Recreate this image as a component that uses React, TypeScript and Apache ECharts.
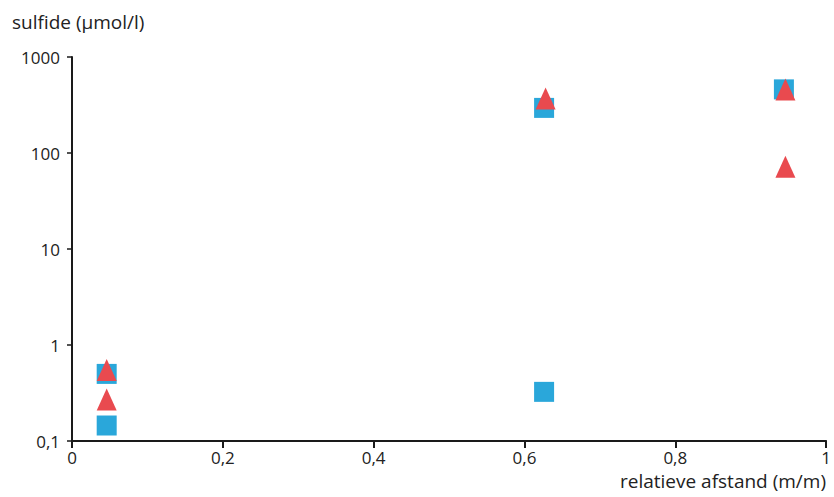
import React, { useEffect, useRef } from "react";
import * as echarts from "echarts";

const squareX = [0.046, 0.046, 0.626, 0.626, 0.944];
const squareY = [0.5, 0.145, 295, 0.325, 460];
const triangleX = [0.046, 0.046, 0.628, 0.946, 0.946];
const triangleY = [0.55, 0.27, 370, 460, 72];
const xTicks = { min: 0, max: 1, interval: 0.2 };
const yTicks = { min: 0.1, max: 1000 };
const yTitle = "sulfide (µmol/l)";
const xTitle = "relatieve afstand (m/m)";

const FONT = "Open Sans";

export default function App() {
  const ref = useRef<HTMLDivElement>(null);
  useEffect(() => {
    if (!ref.current) return;
    const chart = echarts.init(ref.current, undefined, { renderer: "svg" });
    const fmt = (v: number) => String(v).replace(".", ",");
    chart.setOption({
      animation: false,
      backgroundColor: "#ffffff",
      grid: { left: 72, right: 6, top: 57, bottom: 56, containLabel: false },
      xAxis: {
        type: "value",
        min: xTicks.min,
        max: xTicks.max,
        interval: xTicks.interval,
        splitLine: { show: false },
        axisLine: { show: true, lineStyle: { color: "#1a1a1a", width: 2 } },
        axisTick: { show: true, length: 7, lineStyle: { color: "#1a1a1a", width: 2 } },
        axisLabel: { formatter: fmt, color: "#222", fontSize: 17, fontFamily: FONT, margin: 7, lineHeight: 18 },
      },
      yAxis: {
        type: "log",
        logBase: 10,
        min: yTicks.min,
        max: yTicks.max,
        splitLine: { show: false },
        axisLine: { show: true, lineStyle: { color: "#1a1a1a", width: 2 } },
        axisTick: { show: true, length: 5, lineStyle: { color: "#1a1a1a", width: 1.5 } },
        axisLabel: { formatter: fmt, color: "#222", fontSize: 17, fontFamily: FONT, margin: 12 },
      },
      graphic: [
        {
          type: "text",
          left: 12,
          top: 12,
          style: { text: yTitle, fontSize: 19, fontFamily: FONT, fill: "#222" },
        },
        {
          type: "text",
          right: 8,
          top: 471,
          style: { text: xTitle, fontSize: 19, fontFamily: FONT, fill: "#222", lineHeight: 20 },
        },
      ],
      series: [
        {
          type: "scatter",
          symbol: "rect",
          symbolSize: 20,
          itemStyle: { color: "#2aa7da", opacity: 1 },
          data: squareX.map((x, i) => [x, squareY[i]]),
          z: 2,
        },
        {
          type: "scatter",
          symbol: "triangle",
          symbolSize: [20, 22],
          itemStyle: { color: "#e94a4f", opacity: 1 },
          data: triangleX.map((x, i) => [x, triangleY[i]]),
          z: 3,
        },
      ],
    });
    return () => chart.dispose();
  }, []);
  return (
    <div
      ref={ref}
      style={{ position: "absolute", left: 0, top: 0, width: 834, height: 497 }}
    />
  );
}
